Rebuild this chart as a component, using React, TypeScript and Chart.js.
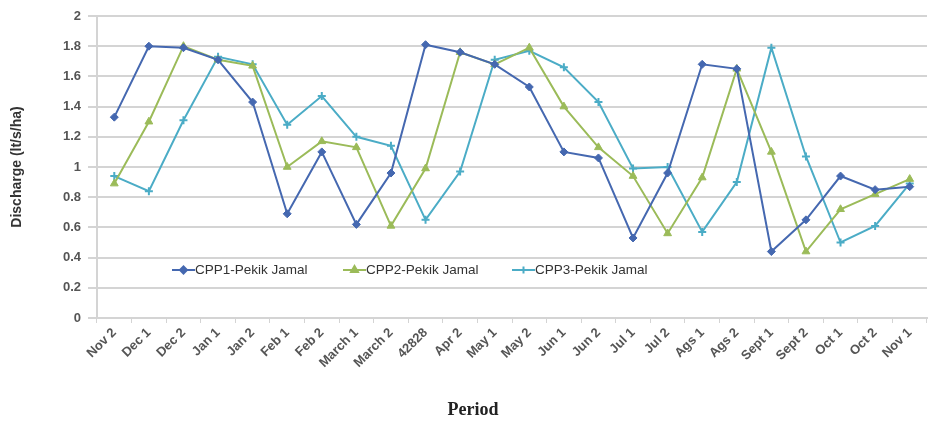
import React, { useEffect, useRef } from 'react';
import { Chart, registerables } from 'chart.js';
import { drawPoint } from 'chart.js/helpers';

Chart.register(...registerables);

const categories = [
  'Nov 2', 'Dec 1', 'Dec 2', 'Jan 1', 'Jan 2', 'Feb 1', 'Feb 2', 'March 1', 'March 2', '42828',
  'Apr 2', 'May 1', 'May 2', 'Jun 1', 'Jun 2', 'Jul 1', 'Jul 2', 'Ags 1', 'Ags 2', 'Sept 1',
  'Sept 2', 'Oct 1', 'Oct 2', 'Nov 1',
];

const cpp1 = [1.33, 1.80, 1.79, 1.71, 1.43, 0.69, 1.10, 0.62, 0.96, 1.81, 1.76, 1.68, 1.53, 1.10, 1.06, 0.53, 0.96, 1.68, 1.65, 0.44, 0.65, 0.94, 0.85, 0.87];
const cpp2 = [0.89, 1.30, 1.80, 1.71, 1.67, 1.00, 1.17, 1.13, 0.61, 0.99, 1.76, 1.68, 1.79, 1.40, 1.13, 0.94, 0.56, 0.93, 1.65, 1.10, 0.44, 0.72, 0.82, 0.92];
const cpp3 = [0.94, 0.84, 1.31, 1.73, 1.68, 1.28, 1.47, 1.20, 1.14, 0.65, 0.97, 1.71, 1.77, 1.66, 1.43, 0.99, 1.00, 0.57, 0.90, 1.79, 1.07, 0.50, 0.61, 0.89];

const seriesNames = ['CPP1-Pekik Jamal', 'CPP2-Pekik Jamal', 'CPP3-Pekik Jamal'];
const yTitle = 'Discharge (lt/s/ha)';
const xTitle = 'Period';

const colors = ['#4568b0', '#9bbb59', '#4bacc6'];
const styles = ['rectRot', 'triangle', 'cross'];
const radii = [4, 4.5, 4];

const overlayPlugin = {
  id: 'overlay',
  afterDraw(chart: any) {
    const ctx = chart.ctx;
    const area = chart.chartArea;
    ctx.save();
    // legend
    const ly = 270;
    const starts = [area.left + 75, area.left + 246, area.left + 415];
    ctx.font = '13.5px "Liberation Sans", Arial, sans-serif';
    ctx.textBaseline = 'middle';
    ctx.textAlign = 'left';
    seriesNames.forEach((name, i) => {
      const x0 = starts[i];
      ctx.strokeStyle = colors[i];
      ctx.lineWidth = 2;
      ctx.beginPath();
      ctx.moveTo(x0, ly);
      ctx.lineTo(x0 + 23, ly);
      ctx.stroke();
      ctx.fillStyle = colors[i];
      drawPoint(ctx, { pointStyle: styles[i], radius: radii[i] - 0.5, borderWidth: 2, rotation: 0 } as any, x0 + 11.5, ly);
      ctx.fillStyle = '#333';
      ctx.fillText(name, x0 + 23, ly);
    });
    // x title
    ctx.font = 'bold 18px "Liberation Serif", "Times New Roman", serif';
    ctx.fillStyle = '#222';
    ctx.textAlign = 'center';
    ctx.fillText(xTitle, 473, 410);
    // y title
    ctx.translate(17, (area.top + area.bottom) / 2);
    ctx.rotate(-Math.PI / 2);
    ctx.font = 'bold 14px "Liberation Sans Narrow", "Liberation Sans", Arial, sans-serif';
    ctx.fillStyle = '#333';
    ctx.fillText(yTitle, 0, 0);
    ctx.restore();
  },
};

export default function App() {
  const ref = useRef<HTMLCanvasElement | null>(null);
  useEffect(() => {
    document.body.style.margin = '0';
    const canvas = ref.current;
    if (!canvas) return;
    const datasets = [cpp1, cpp2, cpp3].map((data, i) => ({
      label: seriesNames[i],
      data,
      borderColor: colors[i],
      backgroundColor: colors[i],
      borderWidth: 2,
      pointStyle: styles[i] as any,
      pointRadius: radii[i],
      pointBorderWidth: i === 2 ? 2 : 1,
      pointBorderColor: colors[i],
      pointBackgroundColor: colors[i],
      tension: 0,
    }));
    const chart = new Chart(canvas, {
      type: 'line',
      data: { labels: categories, datasets },
      options: {
        animation: false,
        responsive: false,
        layout: { padding: { top: 16, right: 3, left: 0, bottom: 0 } },
        plugins: { legend: { display: false }, tooltip: { enabled: false } },
        scales: {
          x: {
            offset: true,
            grid: { offset: true, drawOnChartArea: false, drawTicks: true, tickLength: 5, color: '#d4d4d4' },
            border: { color: '#d4d4d4', width: 2 },
            ticks: {
              autoSkip: false,
              maxRotation: 45,
              minRotation: 45,
              padding: 2,
              color: '#555',
              font: { family: '"Liberation Sans", Arial, sans-serif', size: 13, weight: 'bold' },
            },
            afterFit(scale: any) {
              scale.height = 108;
            },
          },
          y: {
            min: 0,
            max: 2,
            ticks: {
              stepSize: 0.2,
              padding: 7,
              color: '#555',
              font: { family: '"Liberation Sans", Arial, sans-serif', size: 13, weight: 'bold' },
              callback: (v: any) => String(Number(Number(v).toFixed(1))),
            },
            grid: { color: '#d4d4d4', lineWidth: 2, tickLength: 9 },
            border: { color: '#d4d4d4', width: 2 },
            afterFit(scale: any) {
              scale.width = 97;
            },
          },
        },
      },
      plugins: [overlayPlugin],
    });
    return () => chart.destroy();
  }, []);
  return (
    <div style={{ width: 933, height: 426 }}>
      <canvas ref={ref} width={933} height={426} style={{ display: 'block' }} />
    </div>
  );
}
